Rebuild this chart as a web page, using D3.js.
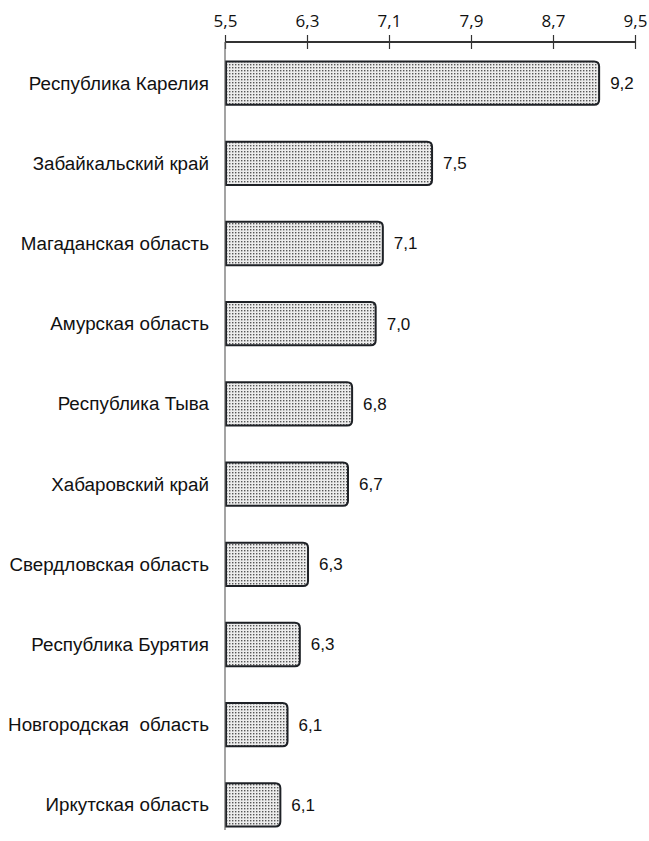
<!DOCTYPE html>
<html><head><meta charset="utf-8">
<script src="https://cdn.jsdelivr.net/npm/d3@7"></script>
<style>body{margin:0;background:#fff}</style>
</head><body>
<svg id="c" width="649" height="841"></svg>
<script>
const categories = ["Республика Карелия","Забайкальский край","Магаданская область","Амурская область","Республика Тыва","Хабаровский край","Свердловская область","Республика Бурятия","Новгородская  область","Иркутская область"];
const values = [9.15, 7.52, 7.04, 6.97, 6.74, 6.70, 6.31, 6.23, 6.11, 6.04];
const valueLabels = ["9,2","7,5","7,1","7,0","6,8","6,7","6,3","6,3","6,1","6,1"];
const tickValues = [5.5, 6.3, 7.1, 7.9, 8.7, 9.5];

const svg = d3.select("#c");
const defs = svg.append("defs");
const pat = defs.append("pattern").attr("id","dots").attr("patternUnits","userSpaceOnUse")
  .attr("width",3).attr("height",3);
pat.append("rect").attr("width",3).attr("height",3).attr("fill","#ececec");
pat.append("rect").attr("x",1).attr("y",1).attr("width",1.4).attr("height",1.4).attr("fill","#555");

const x = d3.scaleLinear().domain([5.5, 9.5]).range([225, 635]);
const y = d3.scaleBand().domain(categories).range([43, 845]).paddingInner(0.46).paddingOuter(0.23);

// axis
const ax = d3.axisTop(x).tickValues(tickValues).tickSize(7).tickPadding(8)
  .tickFormat(d => d3.format(".1f")(d).replace(".", ","));
const g = svg.append("g").attr("transform","translate(0,42)").call(ax);
g.select(".domain").attr("stroke","#333").attr("stroke-width",2).attr("d","M225,0H635");
g.selectAll(".tick line").attr("stroke","#333").attr("stroke-width",1.2).attr("y2",-7);
g.selectAll(".tick").append("line").attr("stroke","#333").attr("stroke-width",1.2).attr("y1",0).attr("y2",7);
g.selectAll(".tick text").attr("font-family","'Open Sans', sans-serif").attr("font-size",17).attr("fill","#111");

// bars
const r = 5;
svg.append("g").selectAll("path").data(categories).join("path")
  .attr("d", (c,i) => {
    const x0 = x(5.5)+1, x1 = x(values[i]), y0 = y(c), h = y.bandwidth();
    return `M${x0},${y0}H${x1-r}Q${x1},${y0} ${x1},${y0+r}V${y0+h-r}Q${x1},${y0+h} ${x1-r},${y0+h}H${x0}Z`;
  })
  .attr("fill","url(#dots)").attr("stroke","#1e2126").attr("stroke-width",2);

// vertical axis line
svg.append("line").attr("x1",225).attr("x2",225).attr("y1",42).attr("y2",830)
  .attr("stroke","#666").attr("stroke-width",1.2);

// category labels
svg.append("g").selectAll("text").data(categories).join("text")
  .attr("x",209).attr("y",c => y(c)+y.bandwidth()/2).attr("dy","0.35em")
  .attr("text-anchor","end").attr("font-family","'Liberation Sans', Arial, sans-serif")
  .attr("font-size",18.8).attr("fill","#111").style("white-space","pre").text(c => c);

// value labels
svg.append("g").selectAll("text").data(categories).join("text")
  .attr("x",(c,i) => x(values[i])+11).attr("y",c => y(c)+y.bandwidth()/2).attr("dy","0.35em")
  .attr("font-family","'Liberation Sans', Arial, sans-serif")
  .attr("font-size",17).attr("fill","#111").text((c,i) => valueLabels[i]);
</script>
</body></html>
